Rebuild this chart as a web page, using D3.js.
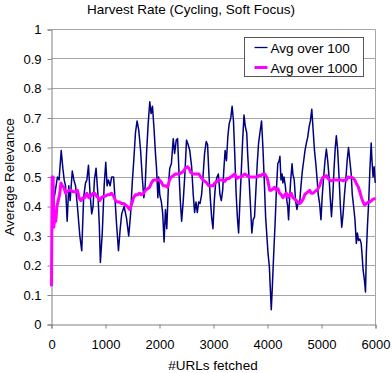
<!DOCTYPE html>
<html>
<head>
<meta charset="utf-8">
<script src="https://cdn.jsdelivr.net/npm/d3@7"></script>
<style>
  body { margin: 0; background: #fff; }
  text { font-family: "Liberation Sans", Arial, sans-serif; fill: #000; }
</style>
</head>
<body>
<div id="chart"></div>
<script>
// chart values
const titleText = "Harvest Rate (Cycling, Soft Focus)";
const xLabel = "#URLs fetched";
const yLabel = "Average Relevance";
const seriesNames = ["Avg over 100", "Avg over 1000"];
const xTicks = [0, 1000, 2000, 3000, 4000, 5000, 6000];
const yTicks = [0, 0.1, 0.2, 0.3, 0.4, 0.5, 0.6, 0.7, 0.8, 0.9, 1];

// Avg over 100: [#URLs, relevance]
const avg100 = [
  [20,0.40],[60,0.44],[110,0.50],[140,0.49],[180,0.59],[210,0.53],[235,0.49],[260,0.47],[290,0.35],[320,0.47],
  [345,0.42],[385,0.52],[415,0.49],[445,0.47],[480,0.40],[525,0.30],[560,0.25],[595,0.43],[630,0.48],[655,0.49],
  [685,0.54],[715,0.44],[745,0.375],[770,0.40],[795,0.49],[825,0.53],[860,0.44],[885,0.34],[905,0.21],[940,0.31],
  [975,0.47],[1005,0.55],[1030,0.47],[1055,0.49],[1085,0.47],[1115,0.50],[1150,0.50],[1175,0.43],[1205,0.34],[1240,0.25],
  [1270,0.32],[1300,0.375],[1345,0.40],[1390,0.36],[1430,0.30],[1465,0.375],[1495,0.48],[1525,0.56],[1555,0.65],[1585,0.69],
  [1615,0.66],[1650,0.59],[1680,0.50],[1710,0.43],[1735,0.47],[1760,0.58],[1790,0.68],[1820,0.755],[1845,0.715],[1870,0.74],
  [1900,0.66],[1925,0.58],[1945,0.53],[1970,0.43],[1985,0.50],[2005,0.44],[2035,0.415],[2060,0.375],[2085,0.28],[2110,0.39],
  [2135,0.325],[2165,0.47],[2190,0.53],[2220,0.545],[2255,0.63],[2280,0.58],[2310,0.625],[2335,0.63],[2360,0.52],[2385,0.42],
  [2410,0.35],[2440,0.42],[2470,0.51],[2500,0.625],[2530,0.61],[2560,0.59],[2595,0.535],[2625,0.44],[2650,0.38],[2675,0.415],
  [2700,0.38],[2725,0.415],[2750,0.41],[2780,0.44],[2805,0.50],[2835,0.58],[2865,0.62],[2890,0.61],[2915,0.51],[2940,0.43],
  [2965,0.365],[2990,0.325],[3015,0.42],[3040,0.48],[3065,0.50],[3090,0.51],[3120,0.44],[3145,0.42],[3170,0.455],[3190,0.52],
  [3215,0.59],[3240,0.555],[3265,0.635],[3290,0.68],[3320,0.70],[3345,0.74],[3370,0.69],[3395,0.57],[3420,0.44],[3445,0.355],
  [3465,0.31],[3490,0.42],[3515,0.52],[3540,0.625],[3565,0.71],[3590,0.67],[3615,0.65],[3635,0.57],[3660,0.49],[3685,0.40],
  [3710,0.31],[3735,0.355],[3760,0.365],[3785,0.455],[3810,0.545],[3835,0.615],[3860,0.65],[3890,0.69],[3915,0.60],[3940,0.49],
  [3965,0.365],[4010,0.24],[4035,0.195],[4050,0.13],[4070,0.05],[4090,0.13],[4115,0.24],[4140,0.34],[4165,0.455],[4190,0.545],
  [4215,0.555],[4230,0.57],[4250,0.49],[4270,0.51],[4285,0.48],[4305,0.50],[4330,0.47],[4350,0.43],[4375,0.40],[4390,0.355],
  [4410,0.43],[4430,0.49],[4455,0.545],[4470,0.51],[4495,0.49],[4520,0.42],[4545,0.39],[4570,0.415],[4595,0.41],[4620,0.47],
  [4645,0.52],[4670,0.555],[4695,0.59],[4720,0.615],[4745,0.635],[4770,0.67],[4795,0.69],[4820,0.73],[4845,0.66],[4870,0.59],
  [4895,0.545],[4915,0.50],[4940,0.44],[4965,0.41],[4990,0.355],[5015,0.44],[5040,0.50],[5065,0.555],[5090,0.595],[5115,0.555],
  [5140,0.50],[5165,0.42],[5185,0.365],[5210,0.44],[5230,0.52],[5255,0.60],[5275,0.64],[5300,0.59],[5325,0.50],[5350,0.40],
  [5375,0.33],[5400,0.375],[5425,0.44],[5450,0.49],[5475,0.555],[5500,0.60],[5525,0.555],[5550,0.51],[5570,0.44],[5595,0.40],
  [5620,0.355],[5645,0.275],[5665,0.31],[5685,0.285],[5710,0.29],[5735,0.275],[5750,0.24],[5770,0.185],[5795,0.15],[5815,0.11],
  [5830,0.24],[5850,0.33],[5875,0.42],[5895,0.52],[5920,0.615],[5935,0.555],[5955,0.50],[5975,0.535],[5995,0.48]
];

// Avg over 1000: [#URLs, relevance]
const avg1000 = [
  [0,0.13],[12,0.50],[30,0.50],[43,0.33],[62,0.365],[80,0.35],[100,0.40],[125,0.42],[150,0.44],[175,0.48],
  [200,0.47],[230,0.465],[260,0.445],[290,0.45],[320,0.455],[360,0.455],[400,0.45],[445,0.45],[480,0.455],[510,0.43],
  [545,0.42],[580,0.43],[615,0.43],[655,0.445],[690,0.43],[730,0.435],[770,0.445],[800,0.445],[835,0.435],[865,0.43],
  [895,0.42],[925,0.43],[965,0.435],[1000,0.435],[1035,0.44],[1075,0.44],[1110,0.445],[1150,0.435],[1185,0.42],[1220,0.415],
  [1260,0.415],[1295,0.41],[1335,0.41],[1370,0.405],[1405,0.40],[1445,0.39],[1480,0.405],[1520,0.43],[1555,0.44],[1595,0.44],
  [1630,0.445],[1665,0.44],[1705,0.445],[1740,0.455],[1780,0.46],[1815,0.465],[1850,0.48],[1890,0.49],[1925,0.49],[1965,0.49],
  [2000,0.49],[2025,0.485],[2070,0.47],[2110,0.47],[2150,0.465],[2185,0.49],[2220,0.50],[2260,0.505],[2295,0.51],[2335,0.51],
  [2370,0.51],[2410,0.515],[2445,0.52],[2480,0.53],[2520,0.535],[2545,0.53],[2580,0.515],[2620,0.51],[2655,0.51],[2690,0.51],
  [2730,0.51],[2765,0.50],[2805,0.49],[2840,0.485],[2875,0.48],[2915,0.47],[2950,0.47],[2990,0.47],[3025,0.48],[3065,0.485],
  [3100,0.49],[3135,0.49],[3175,0.49],[3210,0.485],[3250,0.495],[3285,0.495],[3320,0.50],[3360,0.505],[3395,0.51],[3435,0.495],
  [3470,0.50],[3510,0.50],[3545,0.505],[3580,0.51],[3620,0.505],[3655,0.50],[3695,0.50],[3730,0.50],[3765,0.50],[3805,0.50],
  [3840,0.505],[3880,0.505],[3915,0.51],[3950,0.51],[3985,0.50],[4010,0.485],[4040,0.455],[4070,0.455],[4100,0.46],[4130,0.465],
  [4165,0.455],[4195,0.46],[4225,0.445],[4255,0.44],[4285,0.43],[4320,0.44],[4350,0.445],[4380,0.43],[4410,0.44],[4440,0.445],
  [4470,0.43],[4505,0.425],[4535,0.42],[4565,0.415],[4595,0.41],[4625,0.415],[4660,0.425],[4690,0.44],[4720,0.445],[4750,0.45],
  [4780,0.455],[4810,0.445],[4845,0.445],[4875,0.45],[4905,0.455],[4935,0.46],[4965,0.47],[5000,0.49],[5030,0.50],[5060,0.50],
  [5090,0.505],[5120,0.495],[5150,0.49],[5185,0.487],[5215,0.49],[5245,0.49],[5275,0.49],[5305,0.49],[5340,0.49],[5370,0.49],
  [5400,0.487],[5430,0.49],[5460,0.49],[5490,0.50],[5525,0.498],[5555,0.50],[5585,0.495],[5615,0.49],[5645,0.478],[5680,0.467],
  [5710,0.45],[5740,0.43],[5770,0.415],[5800,0.405],[5830,0.41],[5865,0.415],[5895,0.415],[5925,0.42],[5955,0.425],[6000,0.427]
];

const colors = ["#000080", "#ff00ff"];

// plot area inside the 392x373 picture
const margin = {top: 29.5, right: 16.5, bottom: 48.5, left: 51.5},
    width = 392 - margin.left - margin.right,
    height = 373 - margin.top - margin.bottom;

const svg = d3.select("#chart")
  .append("svg")
    .attr("width", 392)
    .attr("height", 373);

const g = svg.append("g")
    .attr("transform", `translate(${margin.left}, ${margin.top})`);

const x = d3.scaleLinear().domain([0, 6000]).range([0, width]);
const y = d3.scaleLinear().domain([0, 1]).range([height, 0]);

// gridlines
g.append("g")
  .selectAll("line")
  .data(yTicks.slice(1))
  .join("line")
    .attr("x1", 0)
    .attr("x2", width)
    .attr("y1", d => Math.round(y(d)))
    .attr("y2", d => Math.round(y(d)))
    .attr("stroke", "#a6a6a6")
    .attr("stroke-width", 1);

// right border of the plot area
g.append("line")
    .attr("x1", width).attr("x2", width)
    .attr("y1", 0).attr("y2", height)
    .attr("stroke", "#a6a6a6");

// axes
const xAxis = g.append("g")
    .attr("transform", `translate(0, ${height})`)
    .call(d3.axisBottom(x).tickValues(xTicks).tickSize(4).tickPadding(11).tickFormat(d => String(d)));

const yAxis = g.append("g")
    .call(d3.axisLeft(y).tickValues(yTicks).tickSize(4).tickPadding(6).tickFormat(d => String(d)));

[xAxis, yAxis].forEach(a => {
  a.selectAll("path, line").attr("stroke", "#808080");
  a.selectAll("text")
    .style("font-family", "'Liberation Sans', Arial, sans-serif")
    .style("font-size", "13px")
    .attr("fill", "#000");
});

// lines
const line = d3.line()
    .x(d => x(d[0]))
    .y(d => y(d[1]));

g.append("path")
    .datum(avg100)
    .attr("fill", "none")
    .attr("stroke", colors[0])
    .attr("stroke-width", 1.5)
    .attr("stroke-linejoin", "round")
    .attr("d", line);

g.append("path")
    .datum(avg1000)
    .attr("fill", "none")
    .attr("stroke", colors[1])
    .attr("stroke-width", 3)
    .attr("stroke-linejoin", "round")
    .attr("d", line);

// title and axis labels
svg.append("text")
    .attr("x", 191)
    .attr("y", 14)
    .attr("text-anchor", "middle")
    .style("font-size", "13.5px")
    .text(titleText);

svg.append("text")
    .attr("x", 213)
    .attr("y", 370)
    .attr("text-anchor", "middle")
    .style("font-size", "13.5px")
    .text(xLabel);

svg.append("text")
    .attr("transform", "translate(14, 177) rotate(-90)")
    .attr("text-anchor", "middle")
    .style("font-size", "13.5px")
    .text(yLabel);

// legend
const legend = svg.append("g")
    .attr("transform", "translate(244.5, 37.5)");

legend.append("rect")
    .attr("width", 119)
    .attr("height", 39)
    .attr("fill", "#fff")
    .attr("stroke", "#555");

const entry = legend.selectAll("g.entry")
  .data(seriesNames)
  .join("g")
    .attr("class", "entry")
    .attr("transform", (d, i) => `translate(0, ${10 + i * 20})`);

entry.append("line")
    .attr("x1", 10).attr("x2", 23)
    .attr("y1", 0).attr("y2", 0)
    .attr("stroke", (d, i) => colors[i])
    .attr("stroke-width", (d, i) => i === 0 ? 1.3 : 3);

entry.append("text")
    .attr("x", 26)
    .attr("y", 5.5)
    .style("font-size", "13.5px")
    .text(d => d);
</script>
</body>
</html>
